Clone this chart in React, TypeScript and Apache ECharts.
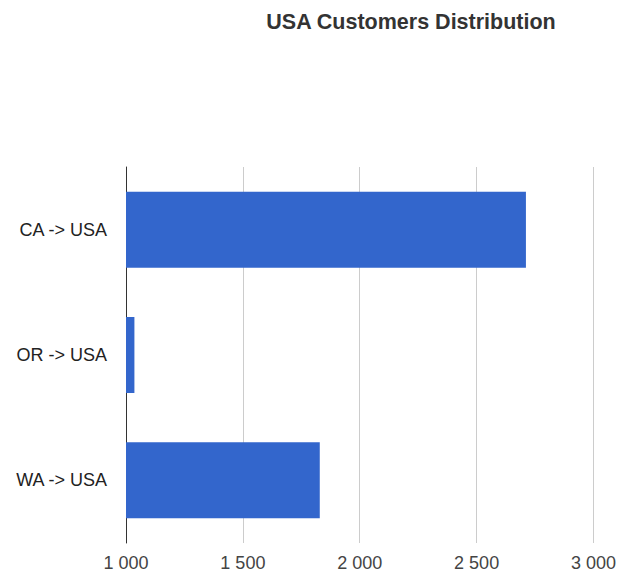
import React, { useEffect, useRef } from "react";
import * as echarts from "echarts";

const categories = ["CA -> USA", "OR -> USA", "WA -> USA"];
const customers = [2711, 1036, 1829];
const axisMin = 1000;
const axisMax = 3000;
const axisStep = 500;

function fmt(v: number): string {
  return String(Math.round(v)).replace(/\B(?=(\d{3})+(?!\d))/g, " ");
}

export default function App() {
  const ref = useRef<HTMLDivElement>(null);
  useEffect(() => {
    document.body.style.margin = "0";
    if (!ref.current) return;
    const chart = echarts.init(ref.current, null, { renderer: "svg" });
    chart.setOption({
      animation: false,
      backgroundColor: "#ffffff",
      title: {
        text: "USA Customers Distribution",
        left: 406,
        top: 6,
        textAlign: "center",
        textStyle: {
          fontFamily: "'Liberation Sans', Arial, sans-serif",
          fontSize: 21.5,
          fontWeight: "bold",
          color: "#333333",
        },
      },
      grid: { left: 126, right: 25, top: 167, bottom: 34, containLabel: false },
      xAxis: {
        type: "value",
        min: axisMin,
        max: axisMax,
        interval: axisStep,
        axisLine: { show: false },
        axisTick: { show: false },
        splitLine: { show: true, lineStyle: { color: "#cccccc", width: 1 } },
        axisLabel: {
          formatter: (v: number) => fmt(v),
          fontFamily: "'Liberation Sans', Arial, sans-serif",
          fontSize: 18,
          color: "#444444",
          margin: 11,
        },
      },
      yAxis: {
        type: "category",
        data: categories,
        inverse: true,
        axisLine: { show: true, lineStyle: { color: "#333333", width: 1 } },
        axisTick: { show: false },
        splitLine: { show: false },
        axisLabel: {
          fontFamily: "'Liberation Sans', Arial, sans-serif",
          fontSize: 18,
          color: "#222222",
          margin: 19,
        },
      },
      series: [
        {
          type: "bar",
          data: customers,
          barWidth: "60.6%",
          itemStyle: { color: "#3366cc" },
        },
      ],
    });
    return () => chart.dispose();
  }, []);
  return <div ref={ref} style={{ width: 619, height: 577 }} />;
}
